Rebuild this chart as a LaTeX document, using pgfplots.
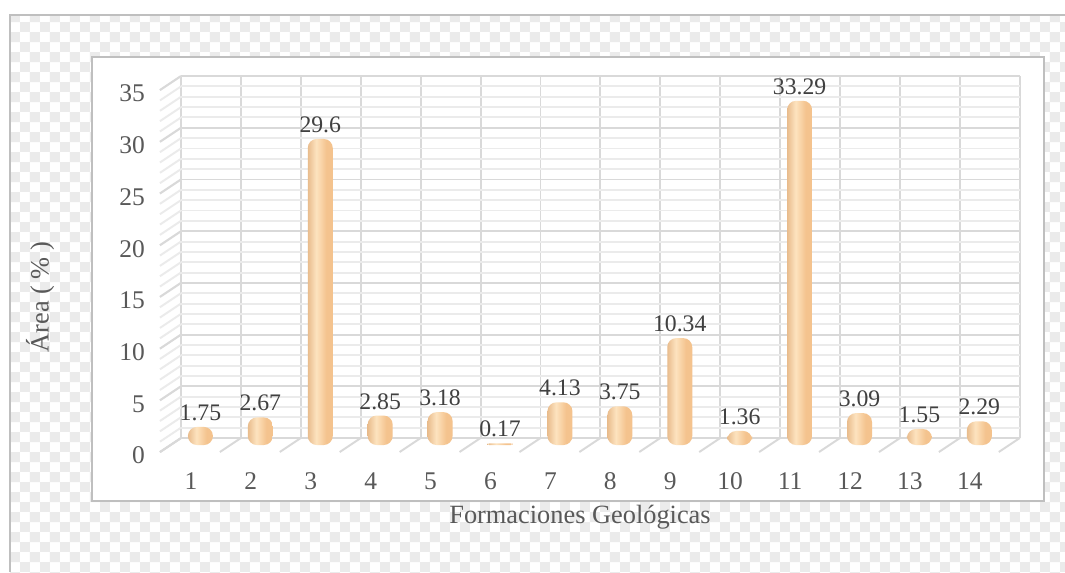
\documentclass[border=0pt]{standalone}
\usepackage{fontspec}
\setmainfont{Liberation Serif}
\usepackage{pgfplots}
\pgfplotsset{compat=1.18}
\usetikzlibrary{patterns}

\definecolor{txt}{HTML}{595959}
\definecolor{lbl}{HTML}{404040}
\definecolor{gmaj}{HTML}{D9D9D9}
\definecolor{gmin}{HTML}{EBEBEB}
\definecolor{frame}{HTML}{BFBFBF}
\definecolor{barEdge}{HTML}{D99E66}
\definecolor{barHi}{HTML}{FDE3BF}
\definecolor{barBody}{HTML}{F4C38E}
\definecolor{barEdgeR}{HTML}{DDA36C}

% cylinder look: dark edge, highlight left of centre, body, dark edge
\pgfdeclarehorizontalshading{cylsh}{100bp}{
  color(0bp)=(barEdge); color(12bp)=(barEdge); color(42bp)=(barHi);
  color(62bp)=(barBody); color(82bp)=(barBody); color(88bp)=(barEdgeR);
  color(100bp)=(barEdgeR)}

% one cylinder bar per call, so each gets its own shading
\newcommand{\cyl}[2]{\addplot[cyl] coordinates {(#1,#2)};}

\begin{document}
\begin{tikzpicture}
% page: 1065 x 572 px, 1px = 0.02cm
\begin{scope}[x=0.02cm,y=0.02cm]
  \useasboundingbox (0,0) rectangle (1065,572);
  \fill[white] (0,0) rectangle (1065,572);
  \fill[pattern=checkerboard, pattern color=black!8] (10,0) rectangle (1065,557);
  \draw[frame, line width=1.2pt] (10,0) -- (10,557) -- (1065,557);
  \draw[frame, line width=1.2pt, fill=white] (92,71) rectangle (1044,515);
  \node[font=\fontsize{15}{18}\selectfont, text=txt, rotate=90] at (40,275) {Área ( \% )};
  \node[font=\fontsize{15}{18}\selectfont, text=txt] at (580,55) {Formaciones Geológicas};
\end{scope}

% back wall, side wall and floor
\begin{axis}[
  at={(3.62cm,2.68cm)}, anchor=south west,
  scale only axis, width=16.78cm, height=7.24cm,
  xmin=0.5, xmax=14.5, ymin=0, ymax=35,
  xtick={1,...,14}, minor xtick={0.5,1.5,...,14.5},
  ytick={0,5,...,35}, minor y tick num=4,
  xmajorgrids=false, xminorgrids=true,
  ymajorgrids=true, yminorgrids=true,
  major grid style={gmaj, line width=1.1pt},
  minor grid style={gmin, line width=1.1pt},
  minor x grid style={gmaj, line width=1.1pt},
  axis line style={draw=none},
  major tick length=0pt, minor tick length=0pt,
  tick style={draw=none},
  ticklabel style={font=\fontsize{14.5}{17}\selectfont, text=txt},
  xticklabel style={text height=1.4ex, text depth=0pt, xshift=-0.4cm, yshift=-0.68cm},
  yticklabel style={xshift=-0.6cm, yshift=-0.35cm},
  /pgf/number format/assume math mode=true,
  clip=false,
]
\pgfplotsinvokeforeach{0,...,35}{
  \draw[gmin, line width=1.1pt] (axis cs:0.5,#1) -- ++(axis direction cs:-0.3504,-1.3536);
}
\pgfplotsinvokeforeach{0,5,...,35}{
  \draw[gmaj, line width=1.1pt] (axis cs:0.5,#1) -- ++(axis direction cs:-0.3504,-1.3536);
}
\pgfplotsinvokeforeach{0.5,1.5,...,14.5}{
  \draw[gmaj, line width=1.1pt] (axis cs:#1,0) -- ++(axis direction cs:-0.3504,-1.3536);
}
\end{axis}

% bars, half a depth step in front of the wall; y+2 so the rounded foot is clipped
\begin{axis}[
  at={(3.41cm,2.54cm)}, anchor=south west,
  scale only axis, width=16.78cm, height=8.067cm,
  xmin=0.5, xmax=14.5, ymin=2, ymax=41,
  hide axis, clip=true,
  y filter/.expression={y+2},
  nodes near coords, point meta=rawy,
  every node near coord/.append style={font=\fontsize{13.5}{16}\selectfont, text=lbl},
  /pgf/number format/assume math mode=true,
  cyl/.style={ybar, bar width=0.5cm, bar shift=0pt, draw=none,
    shade, shading=cylsh, rounded corners=0.18cm},
]
\cyl{1}{1.75}
\cyl{2}{2.67}
\cyl{3}{29.6}
\cyl{4}{2.85}
\cyl{5}{3.18}
\addplot[cyl, rounded corners=0.9pt] coordinates {(6,0.17)};
\cyl{7}{4.13}
\cyl{8}{3.75}
\cyl{9}{10.34}
\cyl{10}{1.36}
\cyl{11}{33.29}
\cyl{12}{3.09}
\cyl{13}{1.55}
\cyl{14}{2.29}
\end{axis}
\end{tikzpicture}
\end{document}
